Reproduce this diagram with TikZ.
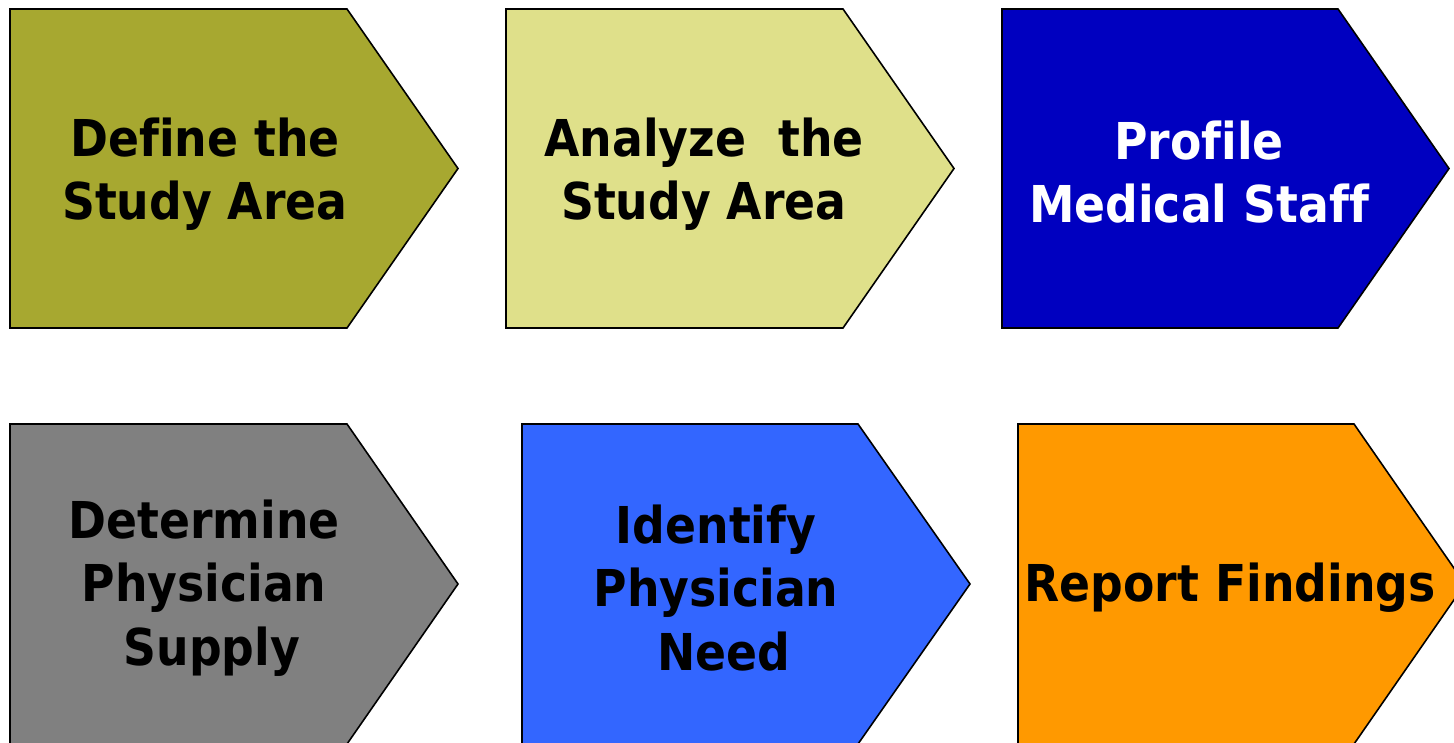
\documentclass[tikz,border=0pt]{standalone}
\usepackage{fontspec}
\setmainfont{DejaVu Sans}[FakeStretch=0.9,Ligatures=NoCommon]
\definecolor{defineolive}{HTML}{A7A830}
\definecolor{analyzelime}{HTML}{DFE08A}
\definecolor{profilenavy}{HTML}{0000C0}
\definecolor{supplygray}{HTML}{808080}
\definecolor{needblue}{HTML}{3366FF}
\definecolor{findorange}{HTML}{FF9900}
\begin{document}
\begin{tikzpicture}[x=1pt,y=-1pt,
        stepshape/.style={draw=black,line width=1.6pt,line join=miter},
        steptext/.style={align=center,inner sep=0pt,font=\fontsize{50.8}{63.5}\selectfont\bfseries}]
        \useasboundingbox (0,0) rectangle (1454,742);

        % top row
        \draw[stepshape,fill=defineolive] (10,9) -- (347,9) -- (458,168.5) -- (347,328) -- (10,328) -- cycle;
        \draw[stepshape,fill=analyzelime] (506,9) -- (843,9) -- (954,168.5) -- (843,328) -- (506,328) -- cycle;
        \draw[stepshape,fill=profilenavy] (1002,9) -- (1338,9) -- (1449,168.5) -- (1338,328) -- (1002,328) -- cycle;

        % bottom row
        \draw[stepshape,fill=supplygray] (10,424) -- (347,424) -- (458,584) -- (347,744) -- (10,744) -- cycle;
        \draw[stepshape,fill=needblue] (522,424) -- (858,424) -- (970,584) -- (858,744) -- (522,744) -- cycle;
        \draw[stepshape,fill=findorange] (1018,424) -- (1354,424) -- (1465,584) -- (1354,744) -- (1018,744) -- cycle;

        \node[steptext] (define) at (205,174) {Define the\\Study Area};
        \node[steptext] (analyze) at (704,174) {Analyze\ \ the\\Study Area};
        \node[steptext,text=white] (profile) at (1199,172) {Profile\\Medical Staff};
        \node[steptext] (supply) at (204,588) {Determine\\Physician\\\ Supply};
        \node[steptext] (need) at (716,588) {Identify\\Physician\\\ Need};
        \node[steptext] (findings) at (1230,588) {Report Findings};
    \end{tikzpicture}
\end{document}
